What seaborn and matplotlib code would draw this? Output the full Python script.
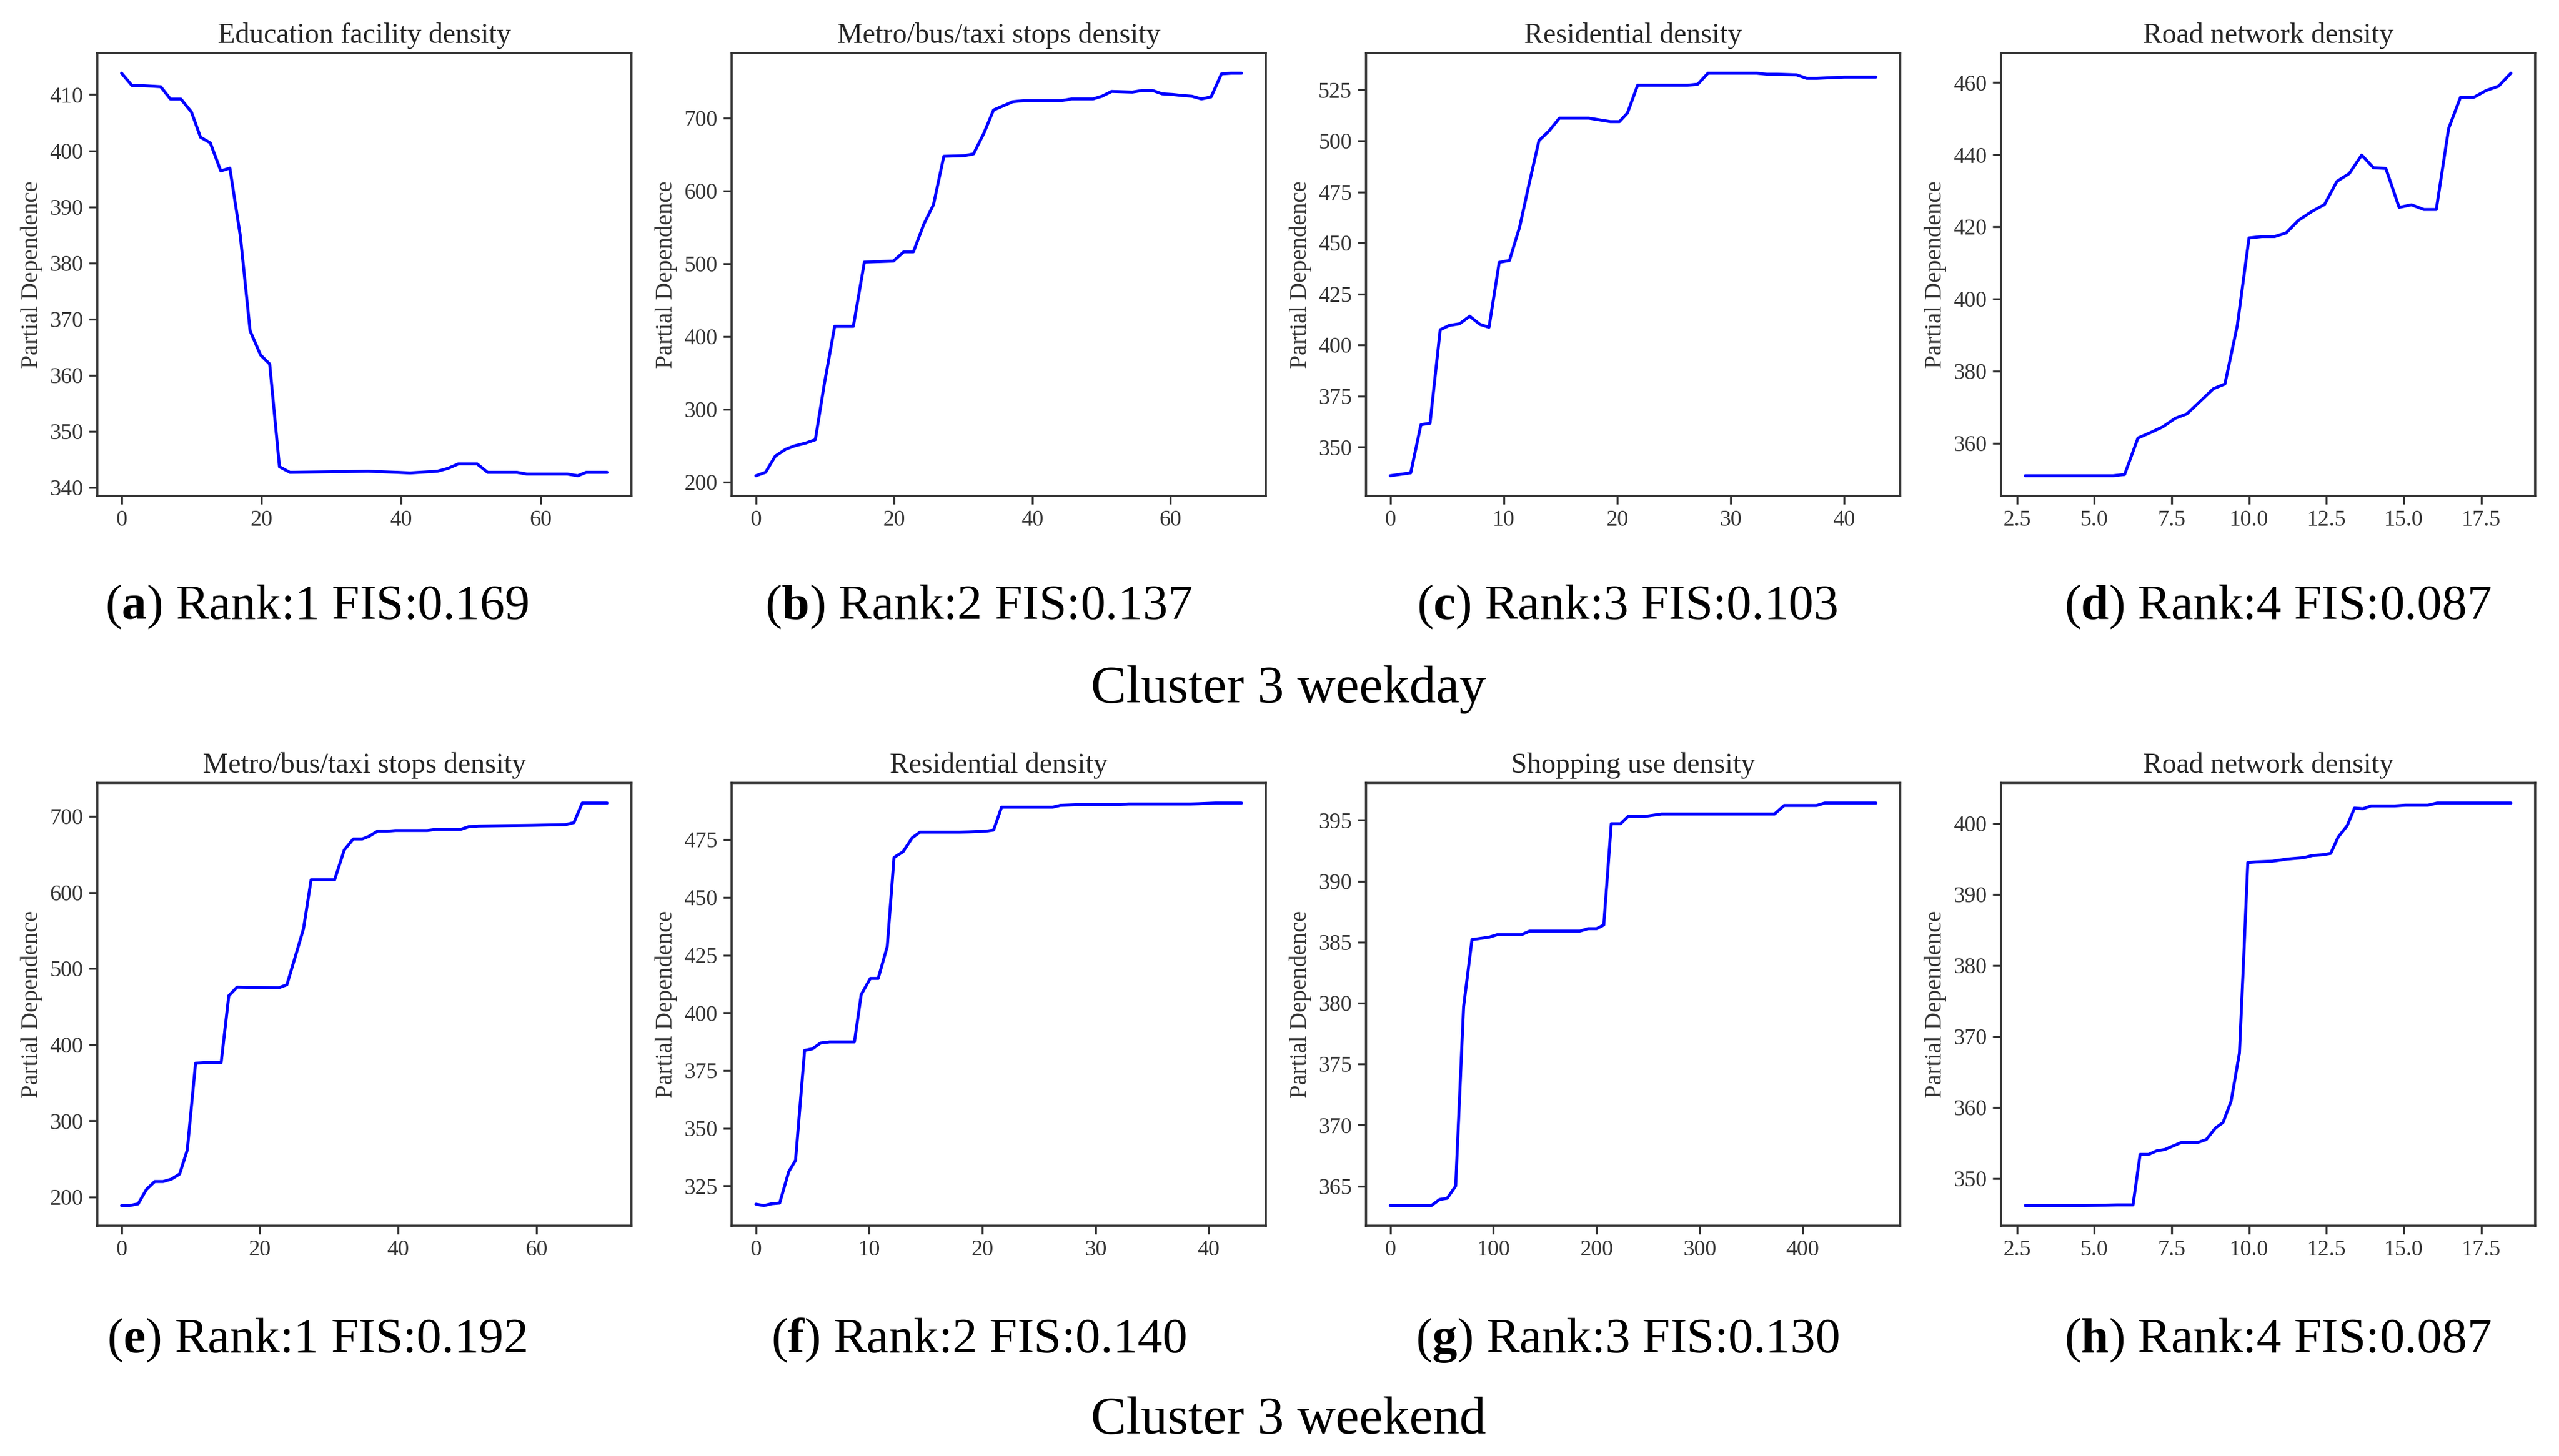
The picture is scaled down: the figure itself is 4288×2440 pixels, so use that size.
import matplotlib
matplotlib.use("Agg")
import matplotlib.pyplot as plt
import seaborn as sns
from matplotlib.ticker import MultipleLocator

# ---- data (partial dependence curves) ----
edu_x = [0, 1.5, 2.9, 5.6, 7.0, 8.5, 10.0, 11.3, 12.7, 14.2, 15.5, 17.0, 18.4, 19.9, 21.2,
         22.6, 24.1, 35.3, 39.5, 41.3, 45.2, 46.7, 48.2, 50.9, 52.4, 56.6, 58.0, 63.8, 65.3, 66.5, 69.5]
edu_y = [413.8, 411.6, 411.6, 411.4, 409.2, 409.2, 406.9, 402.4, 401.4, 396.4, 396.9, 384.8, 367.9, 363.6, 362.0,
         343.7, 342.7, 342.9, 342.7, 342.6, 342.9, 343.4, 344.2, 344.2, 342.7, 342.7, 342.4, 342.4, 342.1, 342.7, 342.7]

metro_wd_x = [0, 1.4, 2.8, 4.3, 5.6, 7.2, 8.6, 9.9, 11.4, 14.1, 15.7, 19.9, 21.4, 22.8, 24.3, 25.7, 27.2,
              30.2, 31.5, 33.0, 34.4, 37.2, 38.7, 44.2, 45.7, 48.8, 50.1, 51.5, 54.5, 56.0, 57.4, 58.8,
              60.3, 61.7, 63.1, 64.5, 65.9, 67.4, 68.8, 70.3]
metro_wd_y = [208.5, 213.2, 235.4, 244.8, 249.5, 253.3, 258.0, 334.4, 413.7, 413.7, 501.9, 503.3, 516.0, 516.0,
              553.8, 580.7, 647.2, 648.1, 650.5, 678.8, 710.8, 722.2, 723.6, 723.6, 726.0, 726.0, 729.7, 736.3,
              735.4, 737.7, 737.7, 733.0, 732.1, 730.7, 729.7, 726.0, 728.8, 760.4, 761.3, 761.3]

res_wd_x = [0, 0.9, 1.8, 2.7, 3.5, 4.4, 5.2, 6.1, 7.0, 7.9, 8.7, 9.6, 10.5, 11.4, 12.2, 13.1, 14.0, 14.9,
            17.5, 19.4, 20.2, 20.9, 21.8, 26.2, 27.1, 28.0, 32.3, 33.2, 34.1, 35.8, 36.7, 37.6, 40.0, 42.8]
res_wd_y = [336.0, 336.7, 337.4, 361.0, 361.7, 407.5, 409.6, 410.4, 414.1, 410.1, 408.7, 440.5, 441.4, 457.8,
            478.1, 500.1, 504.9, 511.1, 511.1, 509.4, 509.4, 513.6, 527.2, 527.2, 527.7, 533.1, 533.1, 532.6,
            532.6, 532.3, 530.6, 530.6, 531.2, 531.2]

road_wd_x = [2.77, 5.61, 5.98, 6.41, 6.81, 7.21, 7.62, 7.99, 8.42, 8.85, 9.22, 9.62, 10.0, 10.43, 10.83,
             11.2, 11.6, 12.04, 12.44, 12.84, 13.24, 13.64, 14.02, 14.42, 14.85, 15.25, 15.65, 16.05,
             16.45, 16.83, 17.26, 17.66, 18.06, 18.46]
road_wd_y = [350.95, 350.95, 351.3, 361.4, 362.9, 364.5, 366.9, 368.1, 371.6, 375.1, 376.4, 392.6, 416.9,
             417.3, 417.3, 418.3, 421.8, 424.3, 426.2, 432.6, 434.8, 439.9, 436.4, 436.2, 425.4, 426.1,
             424.8, 424.8, 447.3, 455.9, 455.9, 457.8, 459.0, 462.6]

metro_we_x = [0, 1.15, 2.4, 3.6, 4.8, 6.0, 7.2, 8.4, 9.5, 10.7, 11.9, 14.4, 15.5, 16.7, 22.7, 23.9, 25.1,
              26.3, 27.4, 30.8, 32.2, 33.5, 34.8, 35.8, 37.0, 38.4, 39.6, 44.2, 45.4, 49.0, 50.2, 51.6,
              59.3, 64.2, 65.4, 66.6, 70.2]
metro_we_y = [188.7, 188.7, 191.0, 209.9, 220.3, 220.3, 223.4, 230.2, 261.7, 375.7, 376.6, 376.6, 464.4,
              475.7, 474.8, 478.8, 515.3, 552.3, 616.7, 616.7, 655.9, 670.3, 670.3, 673.9, 680.6, 680.6,
              681.5, 681.5, 682.9, 682.9, 686.5, 687.4, 688.3, 689.2, 691.9, 717.6, 717.6]

res_we_x = [0, 0.7, 1.4, 2.1, 2.9, 3.5, 4.3, 5.0, 5.7, 6.5, 8.7, 9.3, 10.1, 10.8, 11.6, 12.2, 13.0, 13.8,
            14.5, 18.0, 18.8, 20.3, 21.0, 21.7, 26.2, 26.9, 28.4, 32.1, 32.9, 38.4, 39.1, 40.6, 42.9]
res_we_y = [317.1, 316.5, 317.3, 317.6, 331.2, 336.1, 383.7, 384.4, 386.9, 387.4, 387.4, 407.9, 414.9,
            414.9, 428.7, 467.3, 469.8, 475.8, 478.3, 478.3, 478.4, 478.7, 479.2, 489.1, 489.1, 489.9,
            490.2, 490.2, 490.5, 490.5, 490.6, 490.9, 490.9]

shop_we_x = [0, 39.8, 47.9, 55.2, 63.4, 71.1, 79.2, 87.3, 95.8, 103.6, 127.1, 135.2, 183.9, 192.1, 200.2,
             207.1, 214.4, 223.4, 230.7, 246.9, 255.0, 263.1, 372.8, 382.1, 413.4, 421.5, 471.1]
shop_we_y = [363.4, 363.4, 363.9, 364.0, 365.0, 379.7, 385.2, 385.3, 385.4, 385.6, 385.6, 385.9, 385.9,
             386.1, 386.1, 386.4, 394.7, 394.7, 395.3, 395.3, 395.4, 395.5, 395.5, 396.2, 396.2, 396.4, 396.4]

road_we_x = [2.77, 4.67, 5.74, 6.25, 6.48, 6.75, 7.01, 7.28, 7.55, 7.82, 8.35, 8.62, 8.91, 9.16, 9.42,
             9.56, 9.69, 9.83, 9.96, 10.23, 10.76, 11.23, 11.77, 12.04, 12.37, 12.64, 12.88, 13.17,
             13.41, 13.68, 13.95, 14.71, 15.05, 15.78, 16.08, 18.46]
road_we_y = [346.2, 346.2, 346.3, 346.3, 353.4, 353.4, 353.9, 354.1, 354.6, 355.1, 355.1, 355.5, 357.1,
             357.9, 360.9, 364.4, 367.7, 381.3, 394.5, 394.6, 394.7, 395.0, 395.2, 395.5, 395.6, 395.8,
             398.1, 399.7, 402.2, 402.1, 402.5, 402.5, 402.6, 402.6, 402.9, 402.9]

titles = ["Education facility density", "Metro/bus/taxi stops density", "Residential density",
          "Road network density", "Metro/bus/taxi stops density", "Residential density",
          "Shopping use density", "Road network density"]
letters = ["a", "b", "c", "d", "e", "f", "g", "h"]
ranks = [1, 2, 3, 4, 1, 2, 3, 4]
fis = ["0.169", "0.137", "0.103", "0.087", "0.192", "0.140", "0.130", "0.087"]
row_captions = ["Cluster 3 weekday", "Cluster 3 weekend"]

series = [(edu_x, edu_y), (metro_wd_x, metro_wd_y), (res_wd_x, res_wd_y), (road_wd_x, road_wd_y),
          (metro_we_x, metro_we_y), (res_we_x, res_we_y), (shop_we_x, shop_we_y), (road_we_x, road_we_y)]
x_steps = [20, 20, 10, 2.5, 20, 10, 100, 2.5]
y_steps = [10, 100, 25, 20, 100, 25, 5, 10]

sns.set_theme(style="ticks")
plt.rcParams["font.family"] = ["Liberation Serif", "DejaVu Serif"]
plt.rcParams["mathtext.fontset"] = "custom"
plt.rcParams["mathtext.rm"] = "Liberation Serif"
plt.rcParams["mathtext.bf"] = "Liberation Serif:bold"

W, H = 4288, 2440
fig = plt.figure(figsize=(W / 200, H / 200), dpi=200)

lefts = [163, 1226, 2289, 3353]
tops = [89, 1312]
aw, ah = 895, 742
cap_x = [531, 1640, 2727, 3817]
cap_y = [1017, 2246]
row_y = [1155, 2380]

for i, (xs, ys) in enumerate(series):
    r, c = divmod(i, 4)
    ax = fig.add_axes([lefts[c] / W, 1 - (tops[r] + ah) / H, aw / W, ah / H])
    sns.lineplot(x=xs, y=ys, ax=ax, color="blue", linewidth=1.8)
    ax.set_title(titles[i], fontsize=17.2, color="#262626")
    ax.set_ylabel("Partial Dependence", fontsize=14.5, color="#333333")
    ax.set_xlabel("")
    ax.xaxis.set_major_locator(MultipleLocator(x_steps[i]))
    ax.yaxis.set_major_locator(MultipleLocator(y_steps[i]))
    ax.tick_params(labelsize=13.5, colors="#333333", length=5, width=1.2)
    for s in ax.spines.values():
        s.set_color("#333333")
        s.set_linewidth(1.3)
    fig.text(cap_x[c] / W, 1 - cap_y[r] / H,
             "(" + r"$\mathbf{" + letters[i] + "}$" + ") Rank:%d FIS:%s" % (ranks[i], fis[i]),
             ha="center", va="center", fontsize=30, color="black")

for r in range(2):
    fig.text(0.5035, 1 - row_y[r] / H, row_captions[r], ha="center", va="center",
             fontsize=32, color="black")

fig.savefig("out.png", dpi=200, facecolor="white")
